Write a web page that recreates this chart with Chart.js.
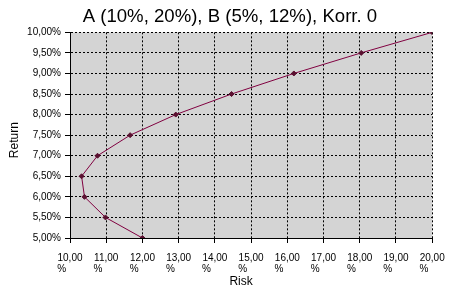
<!DOCTYPE html>
<html>
<head>
<meta charset="utf-8">
<script src="https://cdn.jsdelivr.net/npm/chart.js@4/dist/chart.umd.min.js"></script>
<style>
html,body{margin:0;padding:0;background:#fff;}
#wrap{width:455px;height:298px;position:relative;}
</style>
</head>
<body>
<div id="wrap"><canvas id="c" width="455" height="298"></canvas></div>
<script>
// Data
const chartTitle = 'A (10%, 20%), B (5%, 12%), Korr. 0';
const xTitle = 'Risk';
const yTitle = 'Return';
const riskValues   = [12.00, 10.98, 10.40, 10.32, 10.76, 11.66, 12.92, 14.46, 16.18, 18.04, 20.00];
const returnValues = [5.00, 5.50, 6.00, 6.50, 7.00, 7.50, 8.00, 8.50, 9.00, 9.50, 10.00];
const xTickValues = [10, 11, 12, 13, 14, 15, 16, 17, 18, 19, 20];
const xTickLabels = ['10,00', '11,00', '12,00', '13,00', '14,00', '15,00', '16,00', '17,00', '18,00', '19,00', '20,00'];
const yTickValues = [5, 5.5, 6, 6.5, 7, 7.5, 8, 8.5, 9, 9.5, 10];
const yTickLabels = ['5,00%', '5,50%', '6,00%', '6,50%', '7,00%', '7,50%', '8,00%', '8,50%', '9,00%', '9,50%', '10,00%'];

const points = riskValues.map((r, i) => ({x: r, y: returnValues[i]}));
const FONT = "'Liberation Sans', Arial, sans-serif";

const plotBg = {
  id: 'plotBg',
  beforeDraw(chart) {
    const {ctx, chartArea: a} = chart;
    ctx.save();
    ctx.fillStyle = '#ffffff';
    ctx.fillRect(0, 0, chart.width, chart.height);
    ctx.fillStyle = '#d4d4d4';
    ctx.fillRect(a.left, a.top, a.right - a.left, a.bottom - a.top);
    ctx.restore();
  }
};

new Chart(document.getElementById('c'), {
  type: 'scatter',
  data: {
    datasets: [{
      data: points,
      showLine: true,
      borderColor: '#800040',
      borderWidth: 1,
      pointStyle: 'rectRot',
      pointRadius: 2.5,
      pointBackgroundColor: '#5a1030',
      pointBorderColor: '#5a1030',
      pointBorderWidth: 1
    }]
  },
  options: {
    responsive: false,
    animation: false,
    devicePixelRatio: 1,
    layout: {padding: {left: 0, right: 21, top: 0, bottom: 0}},
    plugins: {
      legend: {display: false},
      tooltip: {enabled: false},
      title: {
        display: true,
        text: '     ' + chartTitle,
        color: '#000',
        font: {family: FONT, size: 18.6, weight: 'normal'},
        padding: {top: 6, bottom: 4}
      }
    },
    scales: {
      x: {
        type: 'linear',
        min: 10, max: 20,
        afterBuildTicks(scale) { scale.ticks = xTickValues.map(v => ({value: v})); },
        afterFit(scale) { scale.height = 60; },
        ticks: {
          color: '#000',
          font: {family: FONT, size: 10, lineHeight: 1.1},
          padding: 10,
          maxRotation: 0,
          autoSkip: false,
          callback: (v) => { const i = xTickValues.indexOf(v); return [xTickLabels[i], '%      ']; }
        },
        grid: {color: '#000', lineWidth: 1, tickLength: 5, tickColor: '#000', tickBorderDash: [], borderDash: [2, 2]},
        border: {display: true, color: '#000', width: 1, dash: [2, 2]},
        title: {display: true, text: xTitle + '      ', color: '#000', font: {family: FONT, size: 12}, padding: {top: 9, bottom: 9}}
      },
      y: {
        type: 'linear',
        min: 5, max: 10,
        afterBuildTicks(scale) { scale.ticks = yTickValues.map(v => ({value: v})); },
        afterFit(scale) { scale.width = 70; },
        ticks: {
          color: '#000',
          font: {family: FONT, size: 10},
          padding: 4,
          autoSkip: false,
          callback: (v) => yTickLabels[yTickValues.indexOf(v)]
        },
        grid: {color: '#000', lineWidth: 1, tickLength: 5, tickColor: '#000', tickBorderDash: [], borderDash: [2, 2]},
        border: {display: true, color: '#000', width: 1, dash: [2, 2]},
        title: {display: true, text: yTitle + '   ', color: '#000', font: {family: FONT, size: 12}, padding: {top: 7, bottom: 0}}
      }
    }
  },
  plugins: [plotBg]
});
</script>
</body>
</html>
